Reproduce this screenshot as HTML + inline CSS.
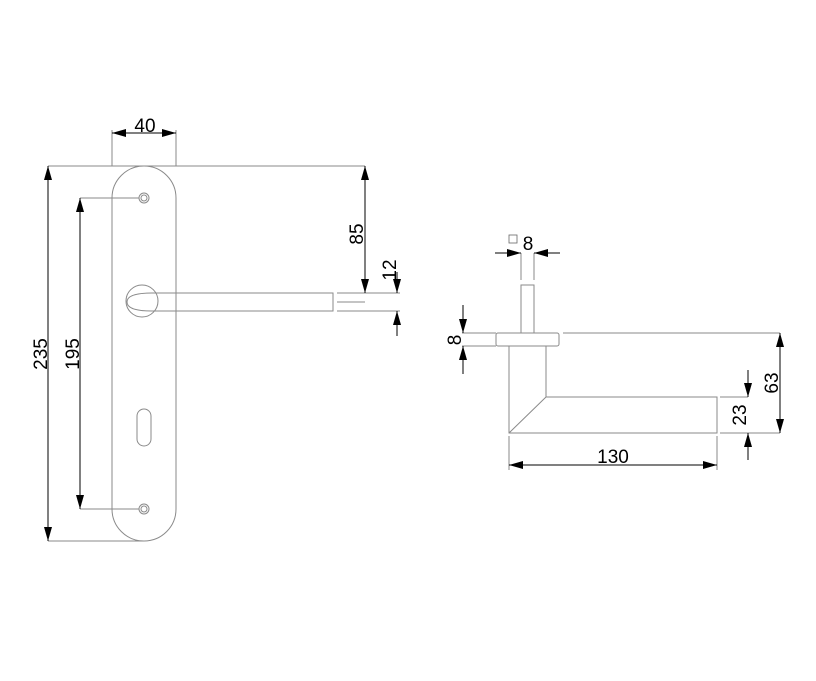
<!DOCTYPE html>
<html><head><style>html,body{margin:0;padding:0;background:#fff}svg{display:block}</style></head>
<body>
<svg width="816" height="681" viewBox="0 0 816 681" xmlns="http://www.w3.org/2000/svg">
<defs>
<marker id="a" viewBox="0 0 14 10" refX="14" refY="5" markerWidth="14" markerHeight="10" markerUnits="userSpaceOnUse" orient="auto-start-reverse"><path d="M0,1 L14,5 L0,9 Z" fill="#000"/></marker>
</defs>
<g fill="none" stroke="#8a8a8a" stroke-width="1">
<path d="M112,198 A32,32 0 0 1 176,198 L176,509 A32,32 0 0 1 112,509 Z"/>
<circle cx="144" cy="198" r="5"/><circle cx="144" cy="198" r="3"/>
<circle cx="144" cy="509" r="5"/><circle cx="144" cy="509" r="3"/>
<rect x="137" y="409" width="14" height="37" rx="7"/>
<circle cx="142" cy="301" r="16"/>
<path d="M176,293 L333,293 L333,311 L176,311 M176,293 L152,293 Q127,293 127,302 Q127,311 152,311 L176,311"/>
<path d="M48,166 L365,166 M80,198 L139,198 M80,509 L139,509 M48,541 L144,541 M112,130 L112,166 M176,130 L176,166 M337,293 L400,293 M337,311 L400,311 M337,302 L365,302"/>
<rect x="521" y="285" width="13" height="48"/>
<rect x="496" y="333" width="63" height="13" rx="2"/>
<path d="M509,346 L546,346 L546,397 L717,397 L717,433 L509,433 Z M546,397 L509,433"/>
<path d="M521,253 L521,280 M534,253 L534,280 M462,333 L496,333 M563,333 L780,333 M462,346 L496,346 M720,397 L748,397 M720,433 L780,433 M509,436 L509,470 M717,436 L717,470"/>
</g>
<g stroke="#000" stroke-width="1" fill="none">
<line x1="112" y1="133" x2="176" y2="133" marker-start="url(#a)" marker-end="url(#a)"/>
<line x1="48" y1="166" x2="48" y2="541" marker-start="url(#a)" marker-end="url(#a)"/>
<line x1="80" y1="198" x2="80" y2="509" marker-start="url(#a)" marker-end="url(#a)"/>
<line x1="365" y1="166" x2="365" y2="293" marker-start="url(#a)" marker-end="url(#a)"/>
<line x1="397" y1="272" x2="397" y2="293" marker-end="url(#a)"/>
<line x1="397" y1="336" x2="397" y2="311" marker-end="url(#a)"/>
<line x1="495" y1="253" x2="521" y2="253" marker-end="url(#a)"/>
<line x1="560" y1="253" x2="534" y2="253" marker-end="url(#a)"/>
<line x1="463" y1="305" x2="463" y2="333" marker-end="url(#a)"/>
<line x1="463" y1="374" x2="463" y2="346" marker-end="url(#a)"/>
<line x1="780" y1="333" x2="780" y2="433" marker-start="url(#a)" marker-end="url(#a)"/>
<line x1="748" y1="370" x2="748" y2="397" marker-end="url(#a)"/>
<line x1="748" y1="460" x2="748" y2="433" marker-end="url(#a)"/>
<line x1="509" y1="465" x2="717" y2="465" marker-start="url(#a)" marker-end="url(#a)"/>
</g>
<rect x="509" y="235" width="8" height="8" fill="none" stroke="#666" stroke-width="0.8"/>
<g font-family="Liberation Sans, sans-serif" font-size="19" fill="#000">
<text x="145" y="132" text-anchor="middle">40</text>
<text x="528" y="250" text-anchor="middle">8</text>
<text x="613" y="463" text-anchor="middle">130</text>
<text transform="translate(47,354) rotate(-90)" text-anchor="middle">235</text>
<text transform="translate(79,354) rotate(-90)" text-anchor="middle">195</text>
<text transform="translate(363,234) rotate(-90)" text-anchor="middle">85</text>
<text transform="translate(396,270) rotate(-90)" text-anchor="middle">12</text>
<text transform="translate(461,340) rotate(-90)" text-anchor="middle">8</text>
<text transform="translate(778,383) rotate(-90)" text-anchor="middle">63</text>
<text transform="translate(746,415) rotate(-90)" text-anchor="middle">23</text>
</g>
</svg>
</body></html>
